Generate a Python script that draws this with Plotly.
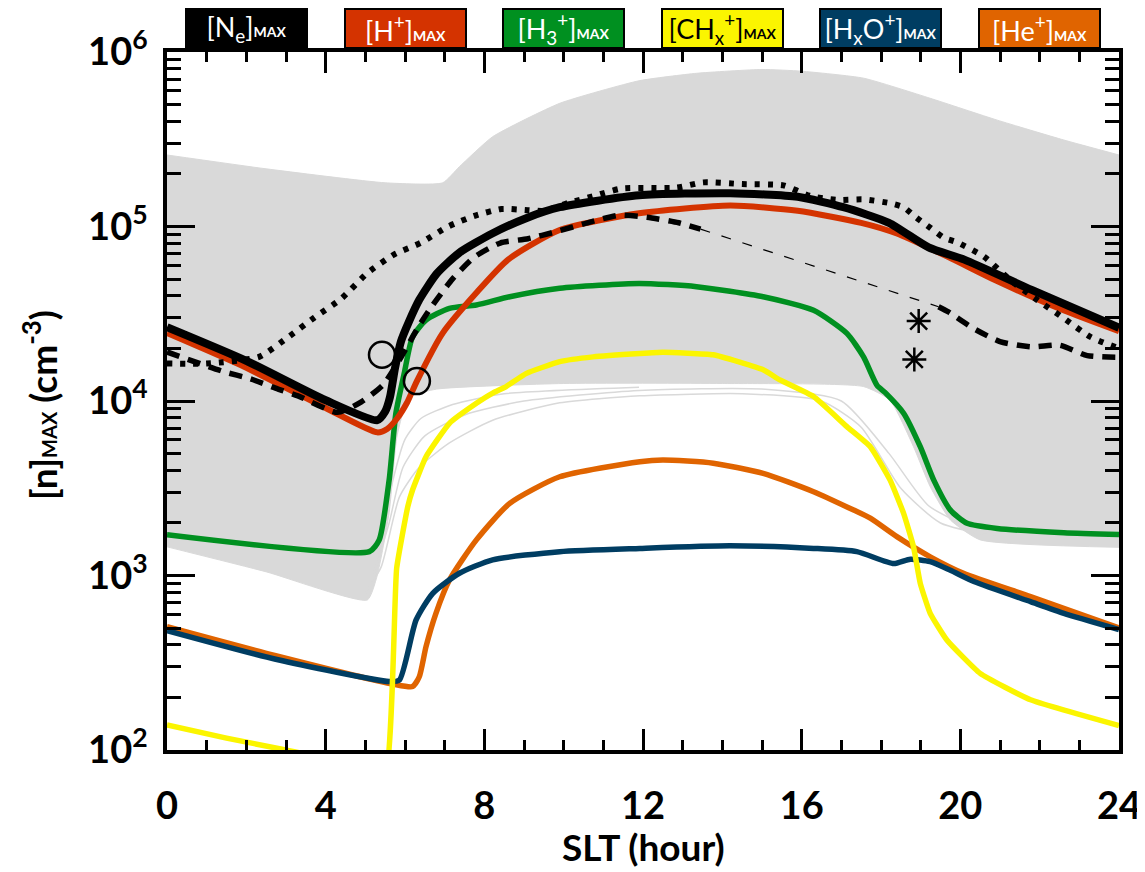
import plotly.graph_objects as go

# ---------------- data ----------------
# SLT hours and peak densities (cm^-3)
ne_hr = [0, 2.0, 4.0, 5.3, 5.5, 5.62, 5.75, 5.9, 6.1, 6.36, 6.8, 7.37, 8.2, 9.07, 9.9, 11.9, 14.2, 15.9, 17.05, 18.2, 19.2, 20.1, 21.8, 24]
ne_val = [26500, 17000, 10100, 7760, 8700, 10500, 15500, 22000, 28500, 38000, 53700, 70800, 91200, 112000, 129000, 151000, 155000, 148000, 129000, 105000, 75900, 64600, 43300, 26300]

hp_hr = [0, 2.0, 4.0, 5.3, 5.55, 5.8, 6.05, 6.3, 6.95, 7.8, 8.6, 9.9, 11.9, 14.2, 15.9, 17.5, 18.4, 19.7, 20.9, 22.6, 24]
hp_val = [24500, 15500, 9120, 6610, 6920, 7940, 9770, 13000, 24500, 41700, 64600, 95500, 119000, 132000, 123000, 105000, 91200, 66800, 49000, 33100, 25100]

h3_hr = [0, 5.1, 5.35, 5.6, 5.77, 5.98, 6.19, 6.53, 7.12, 7.8, 8.64, 9.9, 11.9, 13.35, 15.03, 16.3, 17.14, 17.56, 17.9, 18.1, 18.57, 18.99, 19.33, 19.75, 20.17, 20.93, 22.61, 24]
h3_val = [1710, 1370, 1600, 3520, 8510, 14400, 23300, 29100, 34000, 35500, 39600, 44300, 47200, 45200, 39600, 33100, 24400, 17900, 12300, 11200, 8510, 5470, 3520, 2370, 1990, 1860, 1760, 1720]

chx_hr = [0, 1.5, 2.9, 4.2, 5.45, 5.79, 6.07, 6.19, 6.53, 7.12, 7.8, 8.21, 8.55, 9.06, 9.9, 10.74, 11.92, 12.5, 13.77, 15.03, 15.45, 16.3, 17.14, 17.73, 18.23, 18.57, 18.82, 18.99, 19.24, 19.66, 20.5, 21.77, 24]
chx_val = [139, 117, 101, 87.1, 63.1, 1100, 2480, 3090, 4790, 7450, 9700, 11100, 12100, 14400, 16800, 17900, 18700, 19000, 18400, 15100, 13200, 10600, 7130, 5470, 3520, 2270, 1460, 902, 607, 427, 275, 194, 138]

hxo_hr = [0, 2.74, 5.6, 5.86, 6.28, 6.7, 7.37, 8.21, 9.9, 11.92, 14.19, 16.3, 17.39, 18.32, 18.74, 19.24, 19.75, 20.34, 21.77, 22.61, 24]
hxo_val = [483, 331, 247, 252, 556, 791, 1030, 1230, 1370, 1430, 1480, 1430, 1370, 1170, 1240, 1200, 1070, 923, 708, 607, 490]

hep_hr = [0, 2.74, 5.69, 6.19, 6.36, 6.53, 6.78, 7.12, 7.8, 8.64, 9.9, 11.92, 12.5, 13.77, 15.03, 16.3, 17.31, 17.73, 18.4, 19.24, 20.08, 21.77, 24]
hep_val = [509, 347, 239, 231, 263, 391, 607, 942, 1600, 2590, 3680, 4490, 4590, 4400, 3850, 3020, 2370, 2130, 1670, 1280, 1030, 757, 501]

# black dashed (two parts with a thin dashed bridge)
dashA_hr = [0, 1.44, 2.1, 2.8, 3.3, 4.3, 4.9, 5.45, 5.9, 6.35, 6.7, 7.2, 7.75, 8.4, 9.1, 9.8, 10.6, 11.4, 12.1, 12.9, 13.45]
dashA_val = [19100, 14700, 13400, 11700, 10700, 8610, 9890, 12400, 17800, 26900, 35500, 50100, 66800, 80400, 85100, 93300, 105000, 116000, 113000, 105000, 96600]
bridge_hr = [13.45, 19.45]
bridge_val = [96600, 34700]
dashB_hr = [19.45, 19.7, 20.3, 21.0, 21.8, 22.5, 23.2, 24]
dashB_val = [34700, 32400, 26300, 21900, 20400, 20900, 18200, 17800]

# black dotted
dot_hr = [0, 1.0, 2.32, 3.04, 3.71, 4.39, 5.06, 5.73, 6.4, 7.08, 7.75, 8.43, 9.1, 9.5, 10.1, 10.78, 11.46, 12.85, 13.52, 14.5, 15.54, 16.2, 16.88, 17.56, 18.23, 18.57, 18.9, 19.24, 19.58, 19.92, 20.6, 21.26, 21.94, 22.61, 23.28, 24]
dot_val = [16400, 16400, 17900, 23100, 30000, 38500, 54300, 69200, 80700, 99800, 115000, 126000, 124000, 123000, 136000, 150000, 165000, 167000, 179000, 175000, 172000, 150000, 142000, 143000, 136000, 129000, 112000, 98400, 86300, 81100, 67100, 49300, 37900, 29800, 23300, 20000]

# open circles and asterisks
circ_hr = [5.42, 6.3]
circ_val = [18400, 13000]
star_hr = [18.95, 18.84]
star_val = [28700, 17300]

# envelope of the grey model curves
env_up_hr = [0, 2.5, 5.5, 6.95, 7.37, 8.21, 9.9, 11.9, 13.35, 15.0, 16.0, 17.56, 19.24, 20.93, 22.61, 24]
env_up_val = [257000, 214000, 178000, 178000, 220000, 327000, 508000, 684000, 755000, 794000, 776000, 708000, 543000, 407000, 313000, 257000]
env_lo_hr = [0, 2.5, 5.05, 5.3, 5.6, 5.8, 6.1, 6.8, 10, 14, 17.56, 18.23, 18.82, 19.24, 19.75, 20.5, 24]
env_lo_val = [1460, 1050, 724, 1000, 2290, 6310, 10500, 11700, 12600, 12600, 12100, 10100, 5470, 3230, 2080, 1600, 1450]

# a few separated grey curves below the dense band
grey1_hr = [5.0, 5.4, 5.86, 6.36, 7.12, 8.21, 9.9, 11.92, 14.5, 16.5, 17.5, 18.5, 19.5, 21]
grey1_val = [794, 1120, 2820, 4170, 5750, 7760, 9770, 10700, 11000, 10000, 7080, 3160, 2000, 1660]
grey2_hr = [5.2, 5.6, 5.95, 6.5, 7.5, 9.0, 11.9, 15.0, 17.0, 18.2, 19.2, 20.5]
grey2_val = [1000, 2000, 4170, 6310, 8320, 10000, 11500, 11700, 10000, 5010, 2510, 1780]
grey3_hr = [5.3, 5.7, 6.0, 6.4, 7.2, 8.5, 11.9]
grey3_val = [1260, 3550, 6030, 7940, 9550, 11000, 12000]

x_ticks = [0, 4, 8, 12, 16, 20, 24]
y_ticks = [1e2, 1e3, 1e4, 1e5, 1e6]
y_ticktext = ["10<sup>2</sup>", "10<sup>3</sup>", "10<sup>4</sup>", "10<sup>5</sup>", "10<sup>6</sup>"]

species_labels = [
    "[N<sub>e</sub>]",
    "[H<sup>+</sup>]",
    "[H<sub>3</sub><sup>+</sup>]",
    "[CH<sub>x</sub><sup>+</sup>]",
    "[H<sub>x</sub>O<sup>+</sup>]",
    "[He<sup>+</sup>]",
]

# ---------------- styles ----------------
FONT = "Lato"
GREY = "#d9d9d9"
C_BLACK = "#000000"
C_RED = "#d43300"
C_GREEN = "#009020"
C_YELLOW = "#fbf500"
C_BLUE = "#003d62"
C_ORANGE = "#e06400"
box_colors = [C_BLACK, C_RED, C_GREEN, C_YELLOW, C_BLUE, C_ORANGE]
box_text_colors = ["white", "white", "white", "black", "white", "white"]
box_centers_px = [246.5, 405, 563, 722.5, 880.5, 1039]   # page pixels

# page has an 8px body margin; plot area on the page: x 167..1119, y 52..750
OFF = 8
PL, PR, PT, PB = 167, 1119, 52, 750
W, H = 1145 - OFF, 872 - OFF
L, T = PL - OFF, PT - OFF
R, B = W - (PR - OFF), H - (PB - OFF)
PW, PH = PR - PL, PB - PT

def px_x(p):
    return (p - PL) / PW

def px_y(p):
    return (PB - p) / PH

fig = go.Figure()

def add_line(x, y, color, width, dash="solid", shape="spline", smoothing=0.6):
    fig.add_trace(go.Scatter(
        x=x, y=y, mode="lines",
        line=dict(color=color, width=width, dash=dash, shape=shape, smoothing=smoothing),
        hoverinfo="skip", showlegend=False))

# grey band
fig.add_trace(go.Scatter(x=env_lo_hr, y=env_lo_val, mode="lines",
                         line=dict(color=GREY, width=1, shape="spline", smoothing=0.5),
                         hoverinfo="skip", showlegend=False))
fig.add_trace(go.Scatter(x=env_up_hr, y=env_up_val, mode="lines", fill="tonexty", fillcolor=GREY,
                         line=dict(color=GREY, width=1, shape="spline", smoothing=0.5),
                         hoverinfo="skip", showlegend=False))
for gx, gy in [(grey1_hr, grey1_val), (grey2_hr, grey2_val), (grey3_hr, grey3_val)]:
    add_line(gx, gy, GREY, 1.5)

add_line(hep_hr, hep_val, C_ORANGE, 5.5)
add_line(hxo_hr, hxo_val, C_BLUE, 5.5)
add_line(chx_hr, chx_val, C_YELLOW, 5.5, smoothing=0.4)
add_line(h3_hr, h3_val, C_GREEN, 5.5)
add_line(hp_hr, hp_val, C_RED, 6)
add_line(ne_hr, ne_val, C_BLACK, 8)
add_line(dashA_hr, dashA_val, C_BLACK, 5.5, dash="13px,9px")
add_line(bridge_hr, bridge_val, C_BLACK, 1.2, dash="10px,12px", shape="linear")
add_line(dashB_hr, dashB_val, C_BLACK, 5.5, dash="13px,9px")
add_line(dot_hr, dot_val, C_BLACK, 6, dash="5px,8px")

fig.add_trace(go.Scatter(x=circ_hr, y=circ_val, mode="markers",
                         marker=dict(symbol="circle-open", size=26, color="black", line=dict(width=2.5, color="black")),
                         hoverinfo="skip", showlegend=False))
fig.add_trace(go.Scatter(x=star_hr, y=star_val, mode="markers",
                         marker=dict(symbol="asterisk-open", size=20, color="black", line=dict(width=2.5, color="black")),
                         hoverinfo="skip", showlegend=False))

# ---------------- axes ----------------
fig.update_xaxes(
    range=[0, 24], tickmode="array", tickvals=x_ticks, ticktext=[str(v) for v in x_ticks],
    ticks="inside", ticklen=21, tickwidth=3, tickcolor="black",
    showline=True, linewidth=3.5, linecolor="black", mirror="allticks",
    showgrid=False, zeroline=False, automargin=False,
    minor=dict(ticks="inside", ticklen=10, tickwidth=3, tickcolor="black", dtick=1, tick0=0, showgrid=False),
    tickfont=dict(family=FONT, size=38, color="black", weight="bold"), ticklabelstandoff=20,
)
minor_y = [m * 10 ** e for e in range(2, 6) for m in range(2, 10)]
fig.update_yaxes(
    type="log", range=[2, 6], tickmode="array", tickvals=y_ticks, ticktext=y_ticktext,
    ticks="inside", ticklen=28, tickwidth=3, tickcolor="black",
    showline=True, linewidth=3.5, linecolor="black", mirror="allticks",
    showgrid=False, zeroline=False, automargin=False,
    minor=dict(ticks="inside", ticklen=14, tickwidth=3, tickcolor="black", tickmode="array", tickvals=minor_y, showgrid=False),
    tickfont=dict(family=FONT, size=38, color="black", weight="bold"), ticklabelstandoff=8,
)

annotations = []
for lbl, bc, tc, cx in zip(species_labels, box_colors, box_text_colors, box_centers_px):
    annotations.append(dict(
        x=px_x(cx), y=px_y(28), xref="paper", yref="paper",
        xanchor="center", yanchor="middle", showarrow=False,
        text=lbl + "<span style='font-size:14px'><b>MAX</b></span>",
        font=dict(family=FONT, size=27, color=tc),
        bgcolor=bc, bordercolor="black", borderwidth=2, borderpad=0,
        width=119, height=37, align="center", valign="middle",
    ))
annotations.append(dict(
    x=0.5, y=px_y(846), xref="paper", yref="paper", xanchor="center", yanchor="middle",
    showarrow=False, text="SLT (hour)", font=dict(family=FONT, size=37, color="black", weight="bold")))
annotations.append(dict(
    x=px_x(40), y=px_y(405), xref="paper", yref="paper", xanchor="center", yanchor="middle",
    showarrow=False, textangle=-90,
    text="[n]<span style='font-size:20px'><b>MAX</b></span> (cm<sup>-3</sup>)",
    font=dict(family=FONT, size=37, color="black", weight="bold")))

fig.update_layout(
    width=W, height=H, margin=dict(l=L, r=R, t=T, b=B),
    plot_bgcolor="white", paper_bgcolor="white",
    annotations=annotations, showlegend=False,
)

fig.write_html("out.html")
